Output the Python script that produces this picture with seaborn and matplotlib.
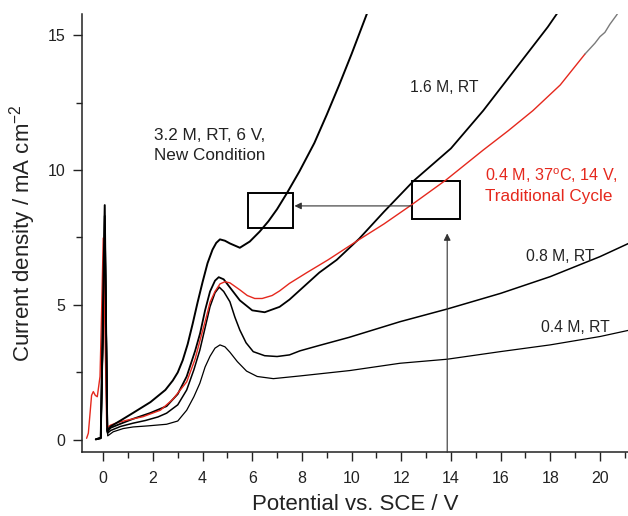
import numpy as np
import pandas as pd
import matplotlib
matplotlib.use("Agg")
import matplotlib.pyplot as plt
from matplotlib.ticker import MultipleLocator
from matplotlib.patches import Rectangle
import seaborn as sns

# ---------------- data ----------------
x_32 = [-0.3, -0.1, 0.06, 0.16, 0.3, 0.7, 1.2, 1.9, 2.5, 2.8, 3.0, 3.2, 3.4, 3.6, 3.8, 4.0,
        4.2, 4.4, 4.55, 4.7, 4.9, 5.1, 5.5, 5.9, 6.3, 6.65, 7.0, 7.4, 7.9, 8.5, 9.0, 9.5, 10.0,
        10.6, 10.9]
y_32 = [0.02, 0.08, 8.7, 0.35, 0.5, 0.72, 1.0, 1.4, 1.85, 2.2, 2.5, 2.95, 3.55, 4.3, 5.1, 5.85,
        6.55, 7.05, 7.3, 7.43, 7.38, 7.28, 7.12, 7.35, 7.72, 8.1, 8.55, 9.15, 9.95, 11.0, 12.05,
        13.15, 14.3, 15.75, 16.5]

x_16 = [-0.3, -0.1, 0.06, 0.16, 0.3, 0.7, 1.2, 1.9, 2.55, 3.0, 3.36, 3.7, 3.9, 4.1, 4.3, 4.5,
        4.65, 4.85, 5.1, 5.5, 6.0, 6.5, 7.1, 7.5, 8.1, 8.7, 9.4, 10.3, 11.3, 12.5, 14.0, 15.3,
        16.6, 17.9, 18.5]
y_16 = [0.02, 0.08, 8.3, 0.3, 0.45, 0.6, 0.78, 1.0, 1.25, 1.7, 2.35, 3.3, 3.95, 4.8, 5.5, 5.9,
        6.03, 5.95, 5.65, 5.17, 4.8, 4.73, 4.93, 5.2, 5.7, 6.2, 6.67, 7.45, 8.45, 9.6, 10.8, 12.2,
        13.75, 15.3, 16.1]

x_red = [-0.67, -0.6, -0.53, -0.47, -0.4, -0.32, -0.24, -0.13, -0.06, 0.0, 0.14, 0.3, 0.6, 1.0,
         1.6, 2.3, 2.8, 3.36, 3.7, 3.9, 4.15, 4.3, 4.5, 4.7, 4.9, 5.1, 5.5, 5.8, 6.1, 6.4, 6.8,
         7.1, 7.5, 8.2, 9.05, 10.3, 11.3, 12.4, 13.8, 15.3, 16.3, 17.3, 18.4, 19.4]
y_red = [0.06, 0.25, 1.0, 1.65, 1.79, 1.65, 1.6, 2.35, 5.0, 7.48, 0.45, 0.55, 0.65, 0.74,
         0.86, 1.1, 1.5, 2.15, 3.0, 3.7, 4.55, 5.1, 5.5, 5.78, 5.86, 5.82, 5.56, 5.35, 5.24, 5.24,
         5.35, 5.52, 5.8, 6.2, 6.67, 7.42, 8.0, 8.7, 9.63, 10.74, 11.45, 12.2, 13.15, 14.3]

x_tail = [19.4, 19.8, 20.0, 20.2, 20.4, 20.67, 20.85]
y_tail = [14.3, 14.7, 14.94, 15.1, 15.4, 15.74, 16.0]

x_08 = [-0.3, -0.1, 0.07, 0.17, 0.3, 0.7, 1.2, 1.7, 2.2, 2.55, 3.0, 3.36, 3.65, 3.89, 4.1, 4.3,
        4.5, 4.67, 4.85, 5.1, 5.3, 5.5, 5.75, 6.04, 6.5, 7.0, 7.5, 7.92, 8.7, 9.9, 11.95, 13.85,
        16.0, 18.0, 20.0, 21.2]
y_08 = [0.02, 0.06, 7.8, 0.25, 0.35, 0.5, 0.62, 0.72, 0.85, 0.99, 1.3, 1.85, 2.6, 3.33, 4.15, 4.94,
        5.45, 5.66, 5.5, 5.12, 4.55, 4.07, 3.6, 3.27, 3.12, 3.09, 3.15, 3.3, 3.5, 3.8, 4.38, 4.85,
        5.43, 6.05, 6.79, 7.3]

x_04 = [-0.3, -0.1, 0.08, 0.18, 0.4, 0.8, 1.2, 1.8, 2.55, 3.0, 3.36, 3.65, 3.89, 4.1, 4.3, 4.5,
        4.7, 4.9, 5.1, 5.4, 5.77, 6.2, 6.85, 7.92, 9.93, 11.95, 13.85, 15.98, 17.99, 20.0, 21.2]
y_04 = [0.02, 0.05, 7.0, 0.15, 0.3, 0.42, 0.48, 0.52, 0.58, 0.7, 1.1, 1.6, 2.1, 2.7, 3.1, 3.4,
        3.52, 3.45, 3.25, 2.9, 2.55, 2.35, 2.27, 2.37, 2.57, 2.84, 2.99, 3.27, 3.52, 3.83, 4.07]

# ---------------- style ----------------
sns.set_theme(style="ticks")
plt.rcParams["font.family"] = ["Liberation Sans", "DejaVu Sans"]
plt.rcParams["mathtext.fontset"] = "custom"
plt.rcParams["mathtext.rm"] = "Liberation Sans"
plt.rcParams["mathtext.it"] = "Liberation Sans:italic"
plt.rcParams["mathtext.bf"] = "Liberation Sans:bold"

RED = "#e5281d"
TXT = "#222222"

fig = plt.figure(figsize=(6.28, 5.16), dpi=100)
ax = fig.add_axes([0.130, 0.1234, 0.870, 0.8489])

def draw(xs, ys, color, lw):
    df = pd.DataFrame({"x": xs, "y": ys})
    sns.lineplot(data=df, x="x", y="y", ax=ax, color=color, lw=lw,
                 sort=False, estimator=None)

draw(x_04, y_04, "black", 0.9)
draw(x_08, y_08, "black", 1.1)
draw(x_16, y_16, "black", 1.3)
draw(x_red, y_red, RED, 1.0)
draw(x_tail, y_tail, "#7a7a7a", 1.0)
draw(x_32, y_32, "black", 1.4)

ax.set_xlim(-0.87, 21.13)
ax.set_ylim(-0.46, 15.77)
ax.set_xticks(range(0, 21, 2))
ax.set_yticks([0, 5, 10, 15])
ax.xaxis.set_minor_locator(MultipleLocator(1))
ax.yaxis.set_minor_locator(MultipleLocator(2.5))
ax.tick_params(which="major", direction="out", length=6.5, width=1.0,
               labelsize=11.5, colors=TXT)
ax.tick_params(axis="x", which="major", pad=7)
ax.tick_params(axis="y", which="major", pad=5)
ax.tick_params(which="minor", direction="out", length=4, width=1.0, colors=TXT)
for s in ["top", "right"]:
    ax.spines[s].set_visible(False)
for s in ["left", "bottom"]:
    ax.spines[s].set_linewidth(1.1)
    ax.spines[s].set_color(TXT)

ax.set_xlabel("Potential vs. SCE / V", fontsize=16, color=TXT, labelpad=6)
ax.set_ylabel("Current density / mA cm$^{-2}$", fontsize=16, color=TXT, labelpad=7)

# boxes and arrows
ax.add_patch(Rectangle((5.83, 7.85), 1.81, 1.30, fill=False, lw=1.4, ec="black"))
ax.add_patch(Rectangle((12.42, 8.17), 1.95, 1.43, fill=False, lw=1.4, ec="black"))
ax.annotate("", xy=(7.7, 8.67), xytext=(12.42, 8.67),
            arrowprops=dict(arrowstyle="-|>", color="#333333", lw=0.8,
                            mutation_scale=10, shrinkA=0, shrinkB=0))
ax.annotate("", xy=(13.85, 7.65), xytext=(13.85, -0.46),
            arrowprops=dict(arrowstyle="-|>", color="#333333", lw=0.8,
                            mutation_scale=10, shrinkA=0, shrinkB=0))

# labels
big = 12.3
small = 11.3
ax.text(2.04, 11.11, "3.2 M, RT, 6 V,", fontsize=big, color=TXT, va="baseline")
ax.text(2.04, 10.37, "New Condition", fontsize=big, color=TXT, va="baseline")
ax.text(12.35, 12.9, "1.6 M, RT", fontsize=small, color=TXT, va="baseline")
ax.text(15.37, 9.59, "0.4 M, 37$^{\\mathrm{o}}$C, 14 V,", fontsize=11.6, color=RED, va="baseline")
ax.text(15.37, 8.85, "Traditional Cycle", fontsize=big, color=RED, va="baseline")
ax.text(17.02, 6.63, "0.8 M, RT", fontsize=small, color=TXT, va="baseline")
ax.text(17.62, 4.01, "0.4 M, RT", fontsize=small, color=TXT, va="baseline")

fig.savefig("out.png", dpi=100)
